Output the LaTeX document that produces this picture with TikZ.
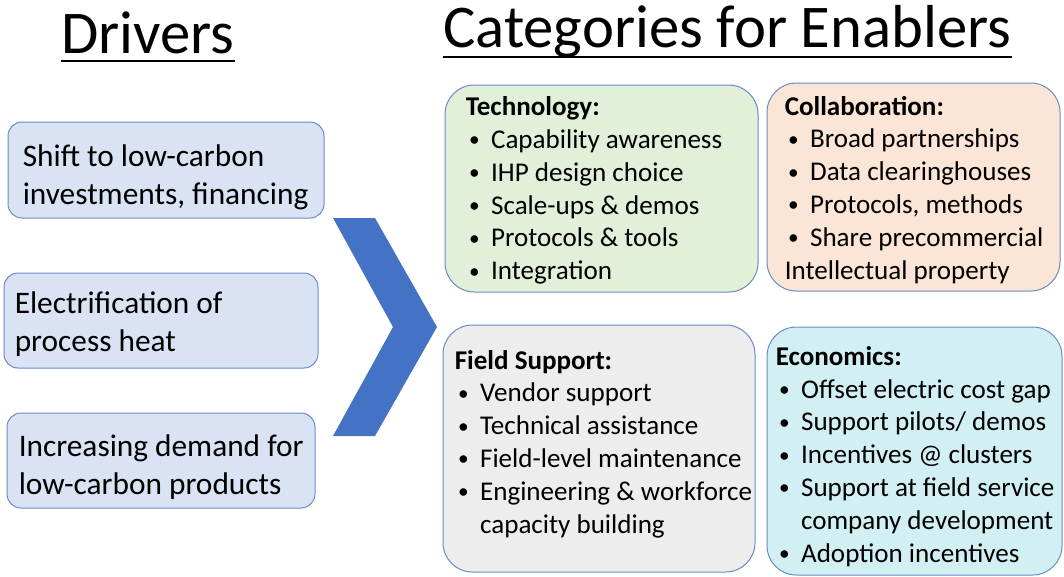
\documentclass[tikz,border=0pt]{standalone}
\usepackage{fontspec}
\setmainfont{Carlito}
\usetikzlibrary{positioning}
\definecolor{boxline}{HTML}{6A8AC6}
\definecolor{drvfill}{HTML}{DAE3F3}
\definecolor{techfill}{HTML}{E2F0D9}
\definecolor{collfill}{HTML}{FBE5D6}
\definecolor{fieldfill}{HTML}{EDEDED}
\definecolor{econfill}{HTML}{D2F0F3}
\definecolor{chevblue}{HTML}{4472C4}
\tikzstyle{driver} = [rectangle, rounded corners=10.5pt, draw=boxline, line width=0.75pt, fill=drvfill, inner sep=0pt]
\tikzstyle{enabler} = [rectangle, rounded corners=22pt, draw=boxline, line width=0.75pt, inner sep=0pt]
\tikzstyle{drvtext} = [align=left, inner sep=0pt, font=\fontsize{23.5}{28.5}\selectfont]
\tikzstyle{enbtext} = [align=left, inner sep=0pt, font=\fontsize{20.3}{24.6}\selectfont]
\tikzstyle{titletext} = [anchor=base west, inner sep=0pt, font=\fontsize{45.5}{50}\selectfont]
\tikzstyle{uline} = [line width=2.2pt]
\newcommand{\itm}{\hspace*{2.5pt}\makebox[16.5pt][l]{\raisebox{1.2pt}{\fontsize{16}{16}\selectfont\textbullet}}}
\newcommand{\cont}{\hspace*{19pt}}

\begin{document}
\begin{tikzpicture}[x=0.75pt, y=-0.75pt]
\useasboundingbox (0,0) rectangle (1064,576);

% titles
\node (titleL) [titletext] at (61,53) {Drivers};
\node (titleR) [titletext] at (443,47) {Categories for Enablers};
\draw [uline] ([yshift=-6pt]titleL.base west) -- ([yshift=-6pt]titleL.base east);
\draw [uline] ([yshift=-7.5pt]titleR.base west) -- ([yshift=-7.5pt]titleR.base east);

% drivers
\node (drv1) [driver, minimum width=237pt, minimum height=72pt] at (166,170) {};
\node (drv2) [driver, minimum width=235.5pt, minimum height=71.25pt] at (161,320.5) {};
\node (drv3) [driver, minimum width=231pt, minimum height=71.25pt] at (161,460.5) {};
\node (drv1t) [drvtext, right=11.25pt of drv1.west, yshift=-5.5pt] {Shift to low-carbon\\investments, financing};
\node (drv2t) [drvtext, right=8.25pt of drv2.west, yshift=-2.5pt] {Electrification of\\process heat};
\node (drv3t) [drvtext, right=9pt of drv3.west, yshift=-5pt] {Increasing demand for\\low-carbon products};

% chevron
\fill [chevblue] (333,218) -- (375,218) -- (437,327) -- (375,436) -- (333,436) -- (393,327) -- cycle;

% enablers
\node (tech)  [enabler, fill=techfill, minimum width=234.75pt, minimum height=155.25pt] at (601.5,188.5) {};
\node (coll)  [enabler, fill=collfill, minimum width=219.75pt, minimum height=156pt] at (913.5,187) {};
\node (field) [enabler, fill=fieldfill, minimum width=234pt, minimum height=185.25pt] at (599,448.5) {};
\node (econ)  [enabler, fill=econfill, minimum width=221.25pt, minimum height=186pt] at (914.5,451) {};

\node (techt) [enbtext, right=15.75pt of tech.west, yshift=-1.5pt] {\textbf{Technology:}\\
  \itm Capability awareness\\
  \itm IHP design choice\\
  \itm Scale-ups \& demos\\
  \itm Protocols \& tools\\
  \itm Integration};
\node (collt) [enbtext, right=13.5pt of coll.west, yshift=-2pt] {\textbf{Collaboration:}\\
  \itm Broad partnerships\\
  \itm Data clearinghouses\\
  \itm Protocols, methods\\
  \itm Share precommercial\\
  Intellectual property};
\node (fieldt) [enbtext, right=9pt of field.west, yshift=3.5pt] {\textbf{Field Support:}\\
  \itm Vendor support\\
  \itm Technical assistance\\
  \itm Field-level maintenance\\
  \itm Engineering \& workforce\\
  \cont capacity building};
\node (econt) [enbtext, right=6.75pt of econ.west, yshift=-4pt] {\textbf{Economics:}\\
  \itm Offset electric cost gap\\
  \itm Support pilots/ demos\\
  \itm Incentives @ clusters\\
  \itm Support at field service\\
  \cont company development\\
  \itm Adoption incentives};

\end{tikzpicture}
\end{document}
